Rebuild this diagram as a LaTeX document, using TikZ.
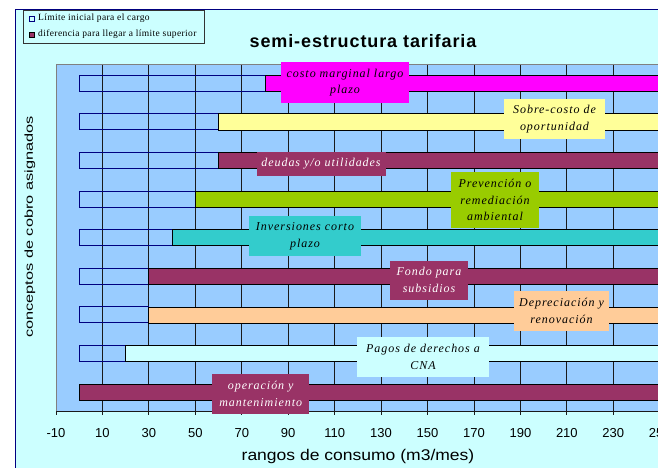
\documentclass[tikz,border=0pt]{standalone}
\usepackage{fontspec}
\setmainfont{Liberation Serif}
\newfontfamily\lblfont[LetterSpace=8]{Liberation Serif}
\newfontfamily\legfont[LetterSpace=4]{Liberation Serif}
\newfontfamily\axfont{Liberation Sans}
\newfontfamily\ttlfont[LetterSpace=5]{Liberation Sans}
\definecolor{chartbg}{HTML}{CCFFFF}
\definecolor{plotbg}{HTML}{99CCFF}
\definecolor{navyb}{HTML}{000080}
\definecolor{plum}{HTML}{993366}
\definecolor{magen}{HTML}{FF00FF}
\definecolor{lyellow}{HTML}{FFFF99}
\definecolor{limeg}{HTML}{99CC00}
\definecolor{tealc}{HTML}{33CCCC}
\definecolor{peach}{HTML}{FFCC99}
\definecolor{gridc}{HTML}{1A1A1A}
\begin{document}
\begin{tikzpicture}[x=1pt,y=-1pt,
  lbl/.style={inner sep=0pt, align=center, font=\lblfont\itshape\fontsize{12}{16.7}\selectfont},
  ticklbl/.style={inner sep=0pt, font=\axfont\fontsize{13}{15}\selectfont},
  legtxt/.style={inner sep=0pt, anchor=west, font=\legfont\fontsize{9.5}{10}\selectfont},
  gridline/.style={gridc, line width=0.8pt},
  outlineseg/.style={navyb, line width=0.9pt},
  fillseg/.style={draw=black, line width=0.8pt}]
\clip (0,0) rectangle (658,468);
\fill[white] (0,0) rectangle (658,468);
% chart area
\draw[navyb, fill=chartbg, line width=1pt] (15,10) rectangle (700,500);
% legend
\draw[black!80, fill=chartbg, line width=0.8pt] (23,10) rectangle (204,43);
\draw[navyb, line width=0.8pt] (29,16) rectangle (34,21);
\draw[black, fill=plum, line width=0.6pt] (29,32) rectangle (34,37);
\begin{scope}
\clip (23,10) rectangle (203.5,43);
\node[legtxt] (leg1) at (38,18.5) {Límite inicial para el cargo};
\node[legtxt] (leg2) at (38,34.5) {diferencia para llegar a límite superior};
\end{scope}
% title
\node[inner sep=0pt, font=\ttlfont\bfseries\fontsize{18}{20}\selectfont] (title) at (363,41) {semi-estructura tarifaria};
% plot area
\fill[plotbg] (56,64) rectangle (670,411);
\foreach \v in {10,30,...,250} {
  \draw[gridline] ({56+(\v+10)*2.322},64) -- ({56+(\v+10)*2.322},411);
}
% bars
\foreach \i/\s/\c in {0/80/magen, 1/60/lyellow, 2/60/plum, 3/50/limeg, 4/40/tealc, 5/30/plum, 6/30/peach, 7/20/chartbg, 8/0/plum} {
  \pgfmathsetmacro\cy{83.3+38.6*\i}
  \pgfmathsetmacro\xs{56+(\s+10)*2.322}
  \draw[outlineseg] (79.22,\cy-8) rectangle (\xs,\cy+8);
  \draw[fillseg, fill=\c] (\xs,\cy-8) rectangle (680,\cy+8);
}
% plot border and axis
\draw[gray, line width=0.9pt] (56,411) -- (56,64) -- (680,64);
\draw[gridc, line width=0.9pt] (56,411) -- (680,411);
\foreach \v in {-10,10,...,250} {
  \draw[gridc, line width=0.8pt] ({56+(\v+10)*2.322},411) -- ({56+(\v+10)*2.322},415);
  \node[ticklbl] (t\v) at ({56+(\v+10)*2.322},433) {\v};
}
% data labels
\node[lbl, fill=magen, text=black, minimum width=128pt, minimum height=41pt] (l1) at (345,82.5) {costo marginal largo\\plazo};
\node[lbl, fill=lyellow, text=black, minimum width=101pt, minimum height=40pt] (l2) at (554.5,119) {Sobre-costo de\\oportunidad};
\node[lbl, fill=plum, text=white, minimum width=129pt, minimum height=24pt] (l3) at (321,164) {deudas y/o utilidades};
\node[lbl, fill=limeg, text=black, minimum width=88pt, minimum height=56pt] (l4) at (495,200) {Prevención o\\remediación\\ambiental};
\node[lbl, fill=tealc, text=black, minimum width=112pt, minimum height=40pt] (l5) at (305,236) {Inversiones corto\\plazo};
\node[lbl, fill=plum, text=white, minimum width=78pt, minimum height=39pt] (l6) at (429,280) {Fondo para\\subsidios};
\node[lbl, fill=peach, text=black, minimum width=95pt, minimum height=40pt] (l7) at (561.5,311) {Depreciación y\\renovación};
\node[lbl, fill=chartbg, text=black, minimum width=132pt, minimum height=40pt] (l8) at (423,356.7) {Pagos de derechos a\\CNA};
\node[lbl, fill=plum, text=white, minimum width=97pt, minimum height=40pt] (l9) at (260.7,394) {operación y\\mantenimiento};
% axis titles
\node[inner sep=0pt, font=\axfont\fontsize{15.5}{17}\selectfont] (xlab) at (358,456) {\scalebox{1.13}[1]{rangos de consumo (m3/mes)}};
\node[inner sep=0pt, rotate=90, font=\axfont\fontsize{11.5}{13}\selectfont] (ylab) at (30,227) {\scalebox{1.42}[1]{conceptos de cobro asignados}};
\end{tikzpicture}
\end{document}
